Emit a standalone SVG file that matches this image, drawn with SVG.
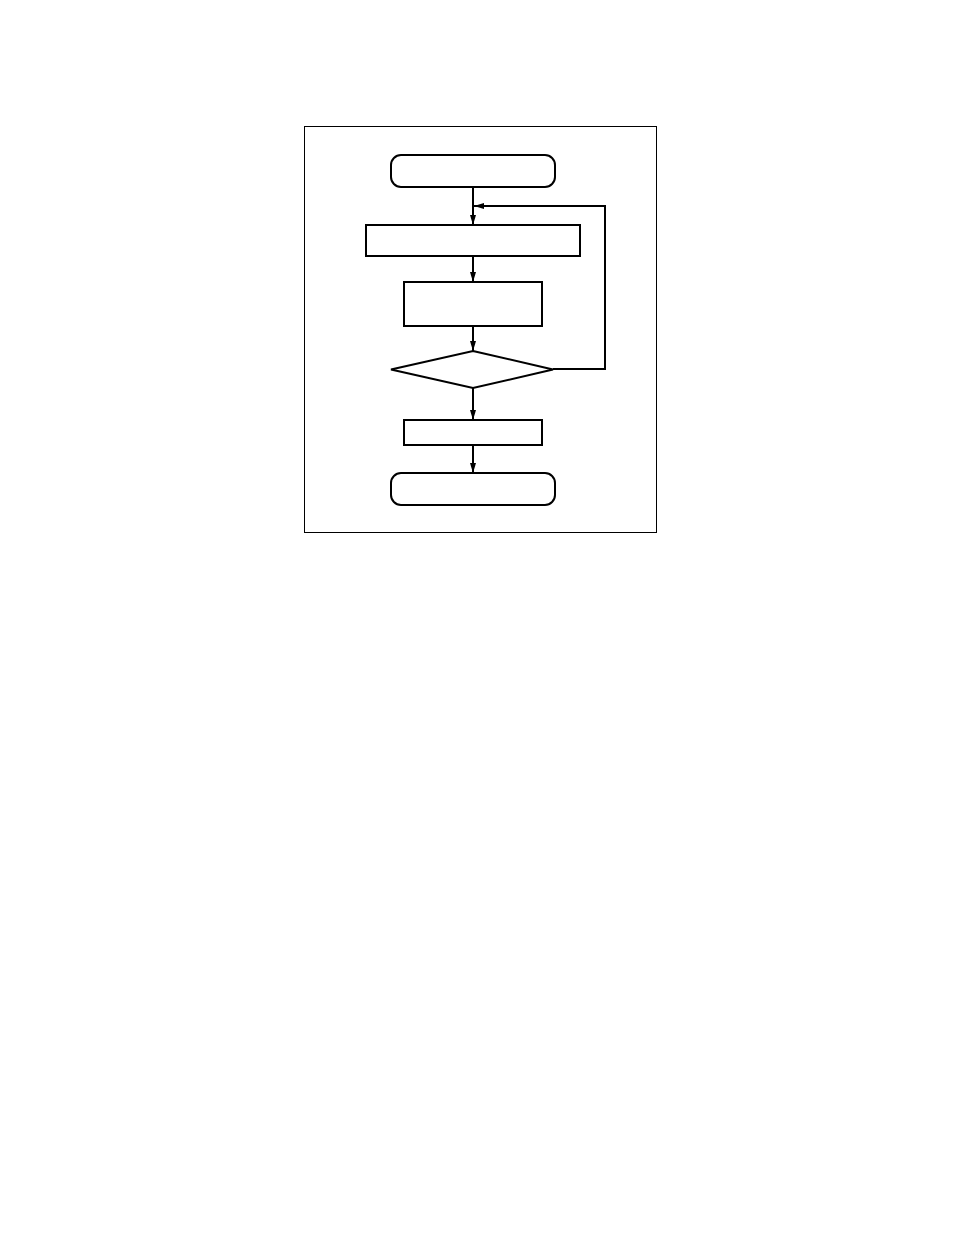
<svg xmlns="http://www.w3.org/2000/svg" width="954" height="1235" viewBox="0 0 954 1235">
<style>
.node{fill:#fff;stroke:#000;stroke-width:2}
.frame{fill:none;stroke:#000;stroke-width:1}
.conn{fill:none;stroke:#000;stroke-width:2}
</style>
<defs>
<marker id="arr" viewBox="0 0 10 6" refX="10" refY="3" markerWidth="10" markerHeight="6" markerUnits="userSpaceOnUse" orient="auto">
<path d="M0,0 L10,3 L0,6 Z" fill="#000"/>
</marker>
</defs>
<rect width="954" height="1235" fill="#fff"/>
<rect class="frame" x="304.5" y="126.5" width="352" height="406"/>
<g id="connectors">
<line class="conn" x1="473" y1="187" x2="473" y2="225" marker-end="url(#arr)"/>
<polyline class="conn" points="553,369 605,369 605,206 474,206" marker-end="url(#arr)"/>
<line class="conn" x1="473" y1="256" x2="473" y2="282" marker-end="url(#arr)"/>
<line class="conn" x1="473" y1="326" x2="473" y2="351" marker-end="url(#arr)"/>
<line class="conn" x1="473" y1="388" x2="473" y2="420" marker-end="url(#arr)"/>
<line class="conn" x1="473" y1="445" x2="473" y2="473" marker-end="url(#arr)"/>
</g>
<g id="start"><rect class="node" x="391" y="155" width="164" height="32" rx="10"/></g>
<g id="step1"><rect class="node" x="366" y="225" width="214" height="31"/></g>
<g id="step2"><rect class="node" x="404" y="282" width="138" height="44"/></g>
<g id="decision"><polygon class="node" points="473,351 553,369.5 473,388 391,369.5"/></g>
<g id="step3"><rect class="node" x="404" y="420" width="138" height="25"/></g>
<g id="end"><rect class="node" x="391" y="473" width="164" height="32" rx="10"/></g>
</svg>
